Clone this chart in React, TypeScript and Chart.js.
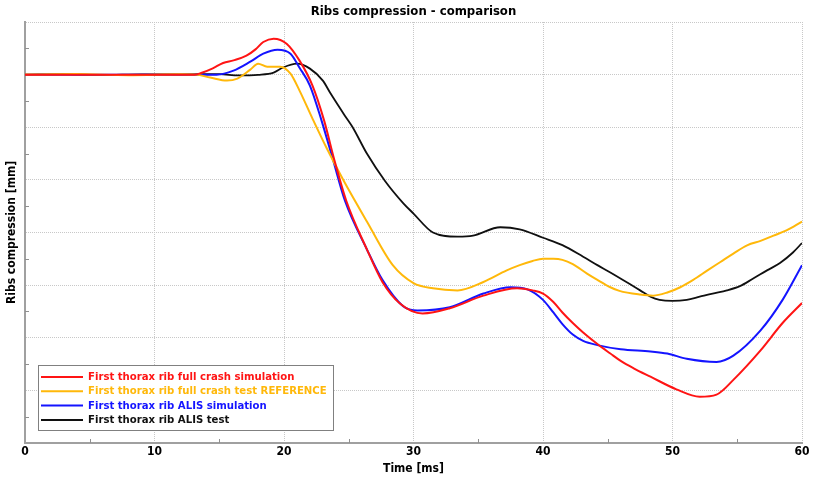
import React, { useEffect, useRef } from "react";
import { Chart, registerables } from "chart.js";

Chart.register(...registerables);

const TITLE = "Ribs compression - comparison";
const X_TITLE = "Time [ms]";
const Y_TITLE = "Ribs compression [mm]";
const FONT = '"DejaVu Sans Condensed", "DejaVu Sans", sans-serif';

const seriesLabels = [
  "First thorax rib full crash simulation",
  "First thorax rib full crash test REFERENCE",
  "First thorax rib ALIS simulation",
  "First thorax rib ALIS test",
];
const seriesColors = ["#ff1414", "#ffb80a", "#1414ff", "#101010"];

const redT = [0, 13.1, 13.6, 14.5, 15.3, 16.1, 17.1, 17.8, 18.4, 19.2, 20.2, 21.2, 22.2, 23.1, 23.9, 24.8, 26.4, 27.6, 29.0, 30.7, 32.8, 35.4, 38.0, 39.2, 40.0, 40.8, 41.5, 42.3, 43.1, 44.2, 45.2, 46.0, 47.0, 48.3, 50.3, 52.1, 53.4, 54.7, 56.8, 58.5, 60];
const redV = [0, 0, 0.15, 0.6, 1.1, 1.35, 1.8, 2.4, 3.1, 3.42, 2.94, 1.33, -1.04, -4.37, -8.16, -11.96, -16.6, -19.7, -21.8, -22.7, -22.2, -21.0, -20.3, -20.5, -20.8, -21.6, -22.6, -23.6, -24.5, -25.6, -26.5, -27.2, -27.9, -28.7, -29.9, -30.6, -30.4, -29.0, -26.2, -23.6, -21.7];

const yellowT = [0, 4, 8, 12, 13.2, 14.3, 15.6, 16.4, 17.4, 18.0, 18.7, 19.7, 20.5, 21.2, 22.2, 23.3, 24.6, 26.4, 28.4, 30.0, 31.5, 33.4, 35.4, 37.2, 38.2, 39.2, 40.0, 40.8, 41.5, 42.3, 43.4, 44.2, 45.2, 45.9, 47.5, 48.5, 49.6, 50.6, 51.6, 52.7, 53.7, 54.7, 55.8, 56.8, 57.8, 58.8, 60];
const yellowV = [0, 0.05, -0.05, 0.03, 0, -0.28, -0.57, -0.38, 0.47, 1.04, 0.76, 0.76, 0.09, -1.52, -4.18, -7.0, -10.06, -13.95, -18.1, -19.8, -20.3, -20.5, -19.7, -18.6, -18.1, -17.7, -17.5, -17.5, -17.6, -18.0, -18.9, -19.5, -20.2, -20.55, -20.9, -21.0, -20.7, -20.2, -19.5, -18.6, -17.8, -17.0, -16.2, -15.8, -15.3, -14.8, -13.96];

const blueT = [0, 14.8, 16.1, 17.4, 18.4, 19.5, 20.5, 21.2, 22.0, 22.9, 23.8, 24.7, 26.4, 27.6, 29.2, 30.3, 32.8, 35.4, 37.5, 38.8, 40.0, 40.8, 41.5, 42.3, 43.1, 44.2, 46.0, 48.3, 49.6, 51.1, 53.4, 54.7, 56.8, 58.5, 60];
const blueV = [0, 0, 0.38, 1.23, 1.99, 2.37, 1.99, 0.66, -1.04, -4.37, -8.16, -11.96, -16.6, -19.5, -22.0, -22.4, -22.1, -20.8, -20.2, -20.4, -21.4, -22.6, -23.7, -24.7, -25.3, -25.7, -26.1, -26.3, -26.5, -27.0, -27.3, -26.7, -24.3, -21.4, -18.1];

const blackT = [0, 3, 6, 9, 12, 15, 16.5, 18.0, 19.2, 19.9, 21.0, 22.0, 23.0, 23.6, 24.7, 25.3, 26.4, 27.8, 29.2, 30.0, 31.5, 33.4, 34.6, 36.7, 38.2, 40.0, 41.5, 43.1, 44.2, 45.2, 46.7, 47.5, 48.3, 49.0, 50.0, 51.1, 52.1, 53.1, 54.2, 55.2, 56.2, 57.3, 58.3, 59.3, 60];
const blackV = [0, 0.04, -0.04, 0.03, 0.02, 0.05, -0.08, -0.02, 0.19, 0.66, 1.04, 0.57, -0.57, -1.8, -3.9, -5.0, -7.5, -10.1, -12.2, -13.2, -15.0, -15.4, -15.3, -14.5, -14.7, -15.5, -16.2, -17.3, -18.1, -18.8, -19.9, -20.5, -21.1, -21.4, -21.5, -21.4, -21.1, -20.8, -20.5, -20.1, -19.4, -18.6, -17.9, -16.9, -16.0];

const seriesT = [redT, yellowT, blueT, blackT];
const seriesV = [redV, yellowV, blueV, blackV];

const boxLegend = {
  id: "boxLegend",
  afterDatasetsDraw(chart: any) {
    const { ctx, chartArea } = chart;
    const x0 = chartArea.left + 13;
    const y0 = chartArea.bottom - 78;
    const w = 295;
    const h = 65;
    ctx.save();
    ctx.fillStyle = "#ffffff";
    ctx.fillRect(x0, y0, w, h);
    ctx.strokeStyle = "#808080";
    ctx.lineWidth = 1;
    ctx.strokeRect(x0 + 0.5, y0 + 0.5, w, h);
    ctx.font = `bold 11.25px ${FONT}`;
    ctx.textBaseline = "middle";
    chart.data.datasets.forEach((ds: any, i: number) => {
      const yy = y0 + 12 + i * 14.3;
      ctx.strokeStyle = ds.borderColor;
      ctx.lineWidth = 2;
      ctx.beginPath();
      ctx.moveTo(x0 + 3, yy);
      ctx.lineTo(x0 + 45, yy);
      ctx.stroke();
      ctx.fillStyle = ds.borderColor;
      ctx.fillText(ds.label, x0 + 50, yy);
    });
    ctx.restore();
  },
};

const minorTicks = {
  id: "minorTicks",
  afterDraw(chart: any) {
    const { ctx, chartArea, scales } = chart;
    ctx.save();
    ctx.strokeStyle = "#909090";
    ctx.lineWidth = 1;
    for (let t = 5; t < 60; t += 10) {
      const px = Math.round(scales.x.getPixelForValue(t)) + 0.5;
      ctx.beginPath();
      ctx.moveTo(px, chartArea.bottom);
      ctx.lineTo(px, chartArea.bottom - 4);
      ctx.stroke();
    }
    for (let v = -32.5; v < 5; v += 5) {
      const py = Math.round(scales.y.getPixelForValue(v)) + 0.5;
      ctx.beginPath();
      ctx.moveTo(chartArea.left, py);
      ctx.lineTo(chartArea.left + 4, py);
      ctx.stroke();
    }
    ctx.restore();
  },
};

export default function App() {
  const ref = useRef<HTMLCanvasElement | null>(null);
  useEffect(() => {
    if (!ref.current) return;
    const datasets = seriesLabels.map((label, i) => ({
      label,
      data: seriesT[i].map((t, j) => ({ x: t, y: seriesV[i][j] })),
      borderColor: seriesColors[i],
      backgroundColor: seriesColors[i],
      borderWidth: i === 3 ? 1.8 : 2,
      pointRadius: 0,
      cubicInterpolationMode: "monotone" as const,
      fill: false,
    }));
    const chart = new Chart(ref.current, {
      type: "line",
      data: { datasets },
      plugins: [boxLegend, minorTicks],
      options: {
        animation: false,
        responsive: false,
        layout: { padding: { left: 0, right: 13, top: 0, bottom: 0 } },
        plugins: {
          legend: { display: false },
          tooltip: { enabled: false },
          title: {
            display: true,
            fullSize: false,
            text: TITLE,
            color: "#000",
            font: { family: FONT, size: 13, weight: "bold", lineHeight: 1.2 },
            padding: { top: 3.5, bottom: 2.9 },
          },
        },
        scales: {
          x: {
            type: "linear",
            min: 0,
            max: 60,
            afterFit: (s: any) => {
              s.height = 37;
            },
            ticks: {
              stepSize: 10,
              color: "#000",
              font: { family: FONT, size: 12, weight: "bold" },
              padding: 2,
              maxRotation: 0,
            },
            grid: {
              color: "#c8c8c8",
              drawTicks: false,
              lineWidth: 1,
            },
            border: { display: true, color: "#a0a0a0", width: 2, dash: [1, 1] },
            title: {
              display: true,
              text: X_TITLE,
              color: "#000",
              font: { family: FONT, size: 12, weight: "bold" },
              padding: { top: 0, bottom: 4 },
            },
          },
          y: {
            type: "linear",
            min: -35,
            max: 5,
            afterFit: (s: any) => {
              s.width = 25;
            },
            ticks: { stepSize: 5, display: false },
            grid: {
              color: "#c8c8c8",
              drawTicks: false,
              lineWidth: 1,
            },
            border: { display: true, color: "#a0a0a0", width: 2, dash: [1, 1] },
            title: {
              display: true,
              text: Y_TITLE,
              color: "#000",
              font: { family: FONT, size: 12, weight: "bold" },
              padding: { top: 5, bottom: 0 },
            },
          },
        },
      } as any,
    });
    return () => chart.destroy();
  }, []);
  return (
    <div style={{ position: "fixed", left: 0, top: 0, width: 815, height: 480, background: "#fff" }}>
      <canvas ref={ref} width={815} height={480} style={{ display: "block" }} />
    </div>
  );
}
